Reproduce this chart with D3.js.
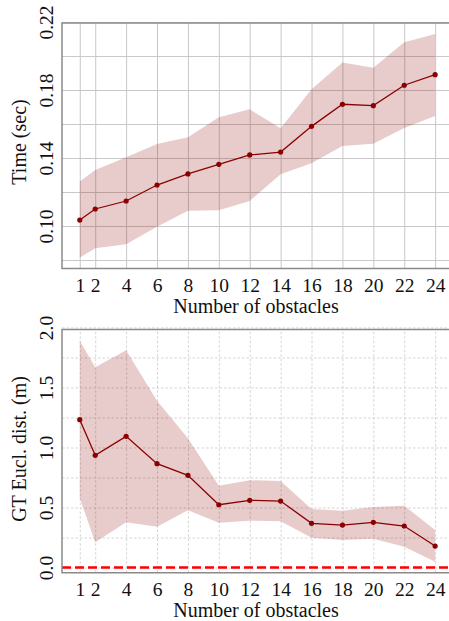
<!DOCTYPE html>
<html>
<head>
  <meta charset="utf-8" />
  <title>Obstacles</title>
  <script src="https://d3js.org/d3.v7.min.js"></script>
  <style>
    body { margin: 0; background: #fff; }
    svg { display: block; }
    .spine { stroke: #8a8a8a; stroke-width: 1.5; fill: none; }
  </style>
</head>
<body>
<div id="chart"></div>
<script>
  // number of obstacles
  var obstacles = [1, 2, 4, 6, 8, 10, 12, 14, 16, 18, 20, 22, 24];

  // time (sec): mean and band
  var timeMean  = [0.1035, 0.110, 0.1147, 0.1241, 0.1306, 0.1363, 0.1418, 0.1435, 0.1586, 0.1716, 0.1708, 0.1828, 0.189];
  var timeUpper = [0.1261, 0.1329, 0.1404, 0.1482, 0.1522, 0.1639, 0.1686, 0.1575, 0.1804, 0.1961, 0.1931, 0.2081, 0.2129];
  var timeLower = [0.0814, 0.0869, 0.0892, 0.0996, 0.109, 0.1092, 0.1147, 0.1304, 0.1369, 0.1471, 0.1484, 0.1576, 0.1647];

  // GT euclidean distance (m): mean and band
  var distMean  = [1.232, 0.935, 1.093, 0.865, 0.768, 0.523, 0.56, 0.554, 0.368, 0.354, 0.377, 0.346, 0.179];
  var distUpper = [1.89, 1.668, 1.81, 1.39, 1.077, 0.682, 0.727, 0.721, 0.4875, 0.473, 0.504, 0.515, 0.3125];
  var distLower = [0.577, 0.21, 0.377, 0.34, 0.477, 0.373, 0.39, 0.385, 0.248, 0.229, 0.24, 0.173, 0.048];
  var distRef = 0.0;

  var timeTickLabels = [0.10, 0.14, 0.18, 0.22];
  var timeGrid = [0.08, 0.10, 0.12, 0.14, 0.16, 0.18, 0.20, 0.22];
  var distTickLabels = [0.0, 0.5, 1.0, 1.5, 2.0];
  var distGrid = [0.0, 0.25, 0.5, 0.75, 1.0, 1.25, 1.5, 1.75, 2.0];

  var FONT = "'Liberation Serif', 'Times New Roman', serif";
  var W = 449, H = 621;
  var svg = d3.select("#chart").append("svg").attr("width", W).attr("height", H);

  var x = d3.scaleLinear().domain([-0.15, 25.15]).range([62, 452.9]);

  function styleText(sel) {
    sel.style("font-family", FONT).style("font-size", "19.5px").style("fill", "#111");
  }

  function panel(opts) {
    var y = d3.scaleLinear().domain(opts.domain).range([opts.bottom, opts.top]);
    var g = svg.append("g");
    var data = obstacles.map(function (n, i) {
      return { n: n, m: opts.mean[i], lo: opts.lower[i], hi: opts.upper[i] };
    });

    // grid
    g.append("g")
      .attr("transform", "translate(0," + opts.bottom + ")")
      .call(d3.axisBottom(x).tickValues(obstacles).tickSize(-(opts.bottom - opts.top)).tickFormat(""))
      .call(function (s) {
        s.select(".domain").remove();
        s.selectAll("line").attr("stroke", opts.gridColor).attr("stroke-width", 1)
          .attr("stroke-dasharray", opts.gridDash);
      });
    g.append("g")
      .attr("transform", "translate(62,0)")
      .call(d3.axisLeft(y).tickValues(opts.grid).tickSize(-(W - 62)).tickFormat(""))
      .call(function (s) {
        s.select(".domain").remove();
        s.selectAll("line").attr("stroke", opts.gridColor).attr("stroke-width", 1)
          .attr("stroke-dasharray", opts.gridDash);
      });

    // band
    var area = d3.area()
      .x(function (d) { return x(d.n); })
      .y0(function (d) { return y(d.lo); })
      .y1(function (d) { return y(d.hi); });
    g.append("path").datum(data)
      .attr("d", area)
      .attr("fill", "rgba(139,0,0,0.2)");

    // reference line
    if (opts.ref !== undefined) {
      g.append("line")
        .attr("x1", 62).attr("x2", W)
        .attr("y1", y(opts.ref)).attr("y2", y(opts.ref))
        .attr("stroke", "#ff0000").attr("stroke-width", 2.6)
        .attr("stroke-dasharray", "9,4");
    }

    // mean line + points
    var line = d3.line()
      .x(function (d) { return x(d.n); })
      .y(function (d) { return y(d.m); });
    g.append("path").datum(data)
      .attr("d", line)
      .attr("fill", "none")
      .attr("stroke", "#8b0000")
      .attr("stroke-width", 1.3);
    g.selectAll(".dot").data(data).enter()
      .append("circle")
      .attr("class", "dot")
      .attr("cx", function (d) { return x(d.n); })
      .attr("cy", function (d) { return y(d.m); })
      .attr("r", 2.6)
      .attr("fill", "#8b0000");

    // spines
    g.append("path").attr("class", "spine")
      .attr("d", "M" + W + "," + opts.top + "H62V" + opts.bottom + "H" + W);

    // x tick labels
    g.append("g")
      .attr("transform", "translate(0," + opts.bottom + ")")
      .call(d3.axisBottom(x).tickValues(obstacles).tickSize(0).tickPadding(0))
      .call(function (s) {
        s.select(".domain").remove();
        s.selectAll("text").attr("y", 23).attr("dy", 0).call(styleText);
      });

    // y tick labels (rotated)
    g.append("g")
      .attr("transform", "translate(62,0)")
      .call(d3.axisLeft(y).tickValues(opts.labels).tickSize(0).tickFormat(d3.format(opts.fmt)))
      .call(function (s) {
        s.select(".domain").remove();
        s.selectAll("text")
          .attr("transform", "rotate(-90)")
          .attr("x", 0).attr("y", -8.7).attr("dy", 0)
          .attr("text-anchor", "middle")
          .call(styleText);
      });

    // titles
    g.append("text")
      .attr("x", 256).attr("y", opts.bottom + 44)
      .attr("text-anchor", "middle")
      .text("Number of obstacles")
      .call(styleText).style("font-size", "20px");
    g.append("text")
      .attr("transform", "translate(25.5," + opts.titleY + ") rotate(-90)")
      .attr("text-anchor", "middle")
      .text(opts.ylabel)
      .call(styleText).style("font-size", "20px");
  }

  panel({
    top: 23, bottom: 268.5, domain: [0.075, 0.2194],
    mean: timeMean, lower: timeLower, upper: timeUpper,
    grid: timeGrid, labels: timeTickLabels, fmt: ".2f",
    gridColor: "#c8c8c8", gridDash: null,
    ylabel: "Time (sec)", titleY: 142
  });

  panel({
    top: 329.5, bottom: 572.7, domain: [-0.043, 1.983],
    mean: distMean, lower: distLower, upper: distUpper,
    grid: distGrid, labels: distTickLabels, fmt: ".1f",
    gridColor: "#d4d4d4", gridDash: "2.5,2",
    ref: distRef,
    ylabel: "GT Eucl. dist. (m)", titleY: 449
  });
</script>
</body>
</html>
